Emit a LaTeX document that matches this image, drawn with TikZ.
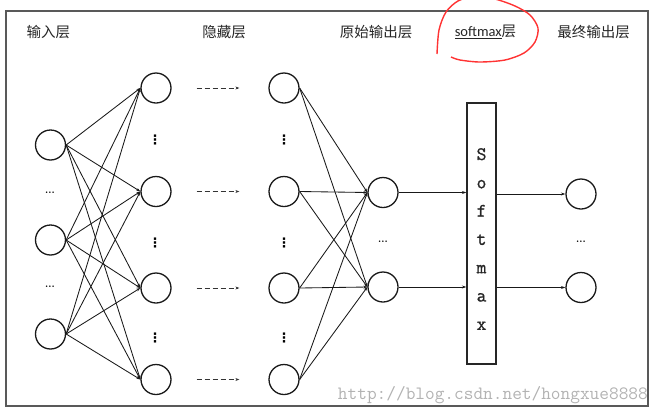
\documentclass[tikz,border=0pt]{standalone}
\usepackage{fontspec}
\newfontfamily\cjk{Noto Sans CJK SC}
\newfontfamily\calib{Carlito}
\newfontfamily\dejavu{DejaVu Sans}
\newfontfamily\boxfont[FakeBold=1.2]{Latin Modern Mono}
\usetikzlibrary{arrows.meta}
\begin{document}
\begin{tikzpicture}[x=1pt,y=-1pt,
  neuron/.style={draw=black!90,line width=1.3pt,circle,minimum size=30pt,inner sep=0pt},
  conn/.style={draw=black!90,line width=0.85pt,-{Stealth[length=4pt,width=2.8pt]}},
  dasharrow/.style={draw=black!80,line width=1pt,dash pattern=on 5pt off 3pt,-{Stealth[length=4pt,width=3pt]}},
  solidarrow/.style={draw=black!90,line width=0.9pt,-{Stealth[length=4.5pt,width=3pt]}},
  head/.style={font=\cjk\fontsize{14.5}{16}\selectfont,text=black!85,inner sep=0pt},
  hdots/.style={font=\bfseries\fontsize{10}{10}\selectfont,inner sep=0pt},
  vdotsn/.style={font=\dejavu\bfseries\fontsize{13}{13}\selectfont,inner sep=0pt},
  letter/.style={font=\boxfont\fontsize{19}{19}\selectfont,anchor=base,inner sep=0pt,text=black!85},
  frame/.style={draw=black!65,line width=1.1pt}]
\useasboundingbox (0,0) rectangle (661,416);
\clip (0,0) rectangle (661,416);
% frame
\draw[frame] (6,11) rectangle (648,406);
% headers
\node[head] (t1) at (48.5,32) {输入层};
\node[head] (t2) at (224,32) {隐藏层};
\node[head] (t3) at (376,32) {原始输出层};
\node[head] (t4) at (485.5,32) {{\calib\underline{softmax}}层};
\node[head] (t5) at (593.5,32) {最终输出层};
% red annotation
\draw[red!80!white,line width=1.4pt] plot[smooth] coordinates {(437,54) (439,30) (446,12) (458,1) (475,-4) (495,-1) (515,6) (530,15) (538,28) (535,42) (524,53) (505,60) (480,62) (460,60) (451,57)};
% input layer
\node[neuron] (i1) at (50.5,145) {};
\node[neuron] (i2) at (50.5,240) {};
\node[neuron] (i3) at (50.5,334) {};
\node[hdots] (id1) at (50,193) {...};
\node[hdots] (id2) at (50,287) {...};
% hidden layers
\foreach \n/\y in {1/88,2/191.5,3/288,4/379.5}{
  \node[neuron] (a\n) at (156,\y) {};
  \node[neuron] (b\n) at (284,\y) {};
}
\foreach \n/\y in {1/140,2/243,3/338}{
  \node[vdotsn] (ad\n) at (155,\y) {⋮};
  \node[vdotsn] (bd\n) at (284,\y) {⋮};
}
% input -> hidden 1
\foreach \i in {1,2,3}{
  \foreach \j in {1,2,3,4}{
    \draw[conn] (i\i.east) -- (a\j.west);
  }
}
% hidden1 -> hidden2 dashed arrows
\foreach \j in {1,2,3,4}{
  \draw[dasharrow,shorten <=25pt,shorten >=29pt] (a\j.east) -- (b\j.west);
}
% original output
\node[neuron] (o1) at (383,192.5) {};
\node[neuron] (o2) at (383,287) {};
\node[hdots] (od) at (383,242) {...};
\foreach \j in {1,2,3,4}{
  \foreach \k in {1,2}{
    \draw[conn] (b\j.east) -- (o\k.west);
  }
}
% softmax box
\node[draw=black!85,line width=1.2pt,minimum width=29pt,minimum height=261pt,inner sep=0pt] (sm) at (481.5,233.5) {};
\foreach \c [count=\i] in {S,o,f,t,m,a,x}{
  \node[letter] (L\i) at (481.5,{160+28.3*(\i-1)}) {\c};
}
% final output
\node[neuron] (f1) at (581,194) {};
\node[neuron] (f2) at (581,287.5) {};
\node[hdots] (fd) at (581,242) {...};
\draw[solidarrow] (o1.east) -- (sm.west |- o1.east);
\draw[solidarrow] (o2.east) -- (sm.west |- o2.east);
\draw[solidarrow] (sm.east |- f1.west) -- (f1.west);
\draw[solidarrow] (sm.east |- f2.west) -- (f2.west);
% watermark
\node[anchor=east,inner sep=0pt,text=black!30,font=\ttfamily\fontsize{18.8}{19}\selectfont] (wm) at (648,395) {http://blog.csdn.net/hongxue8888};
\end{tikzpicture}
\end{document}
